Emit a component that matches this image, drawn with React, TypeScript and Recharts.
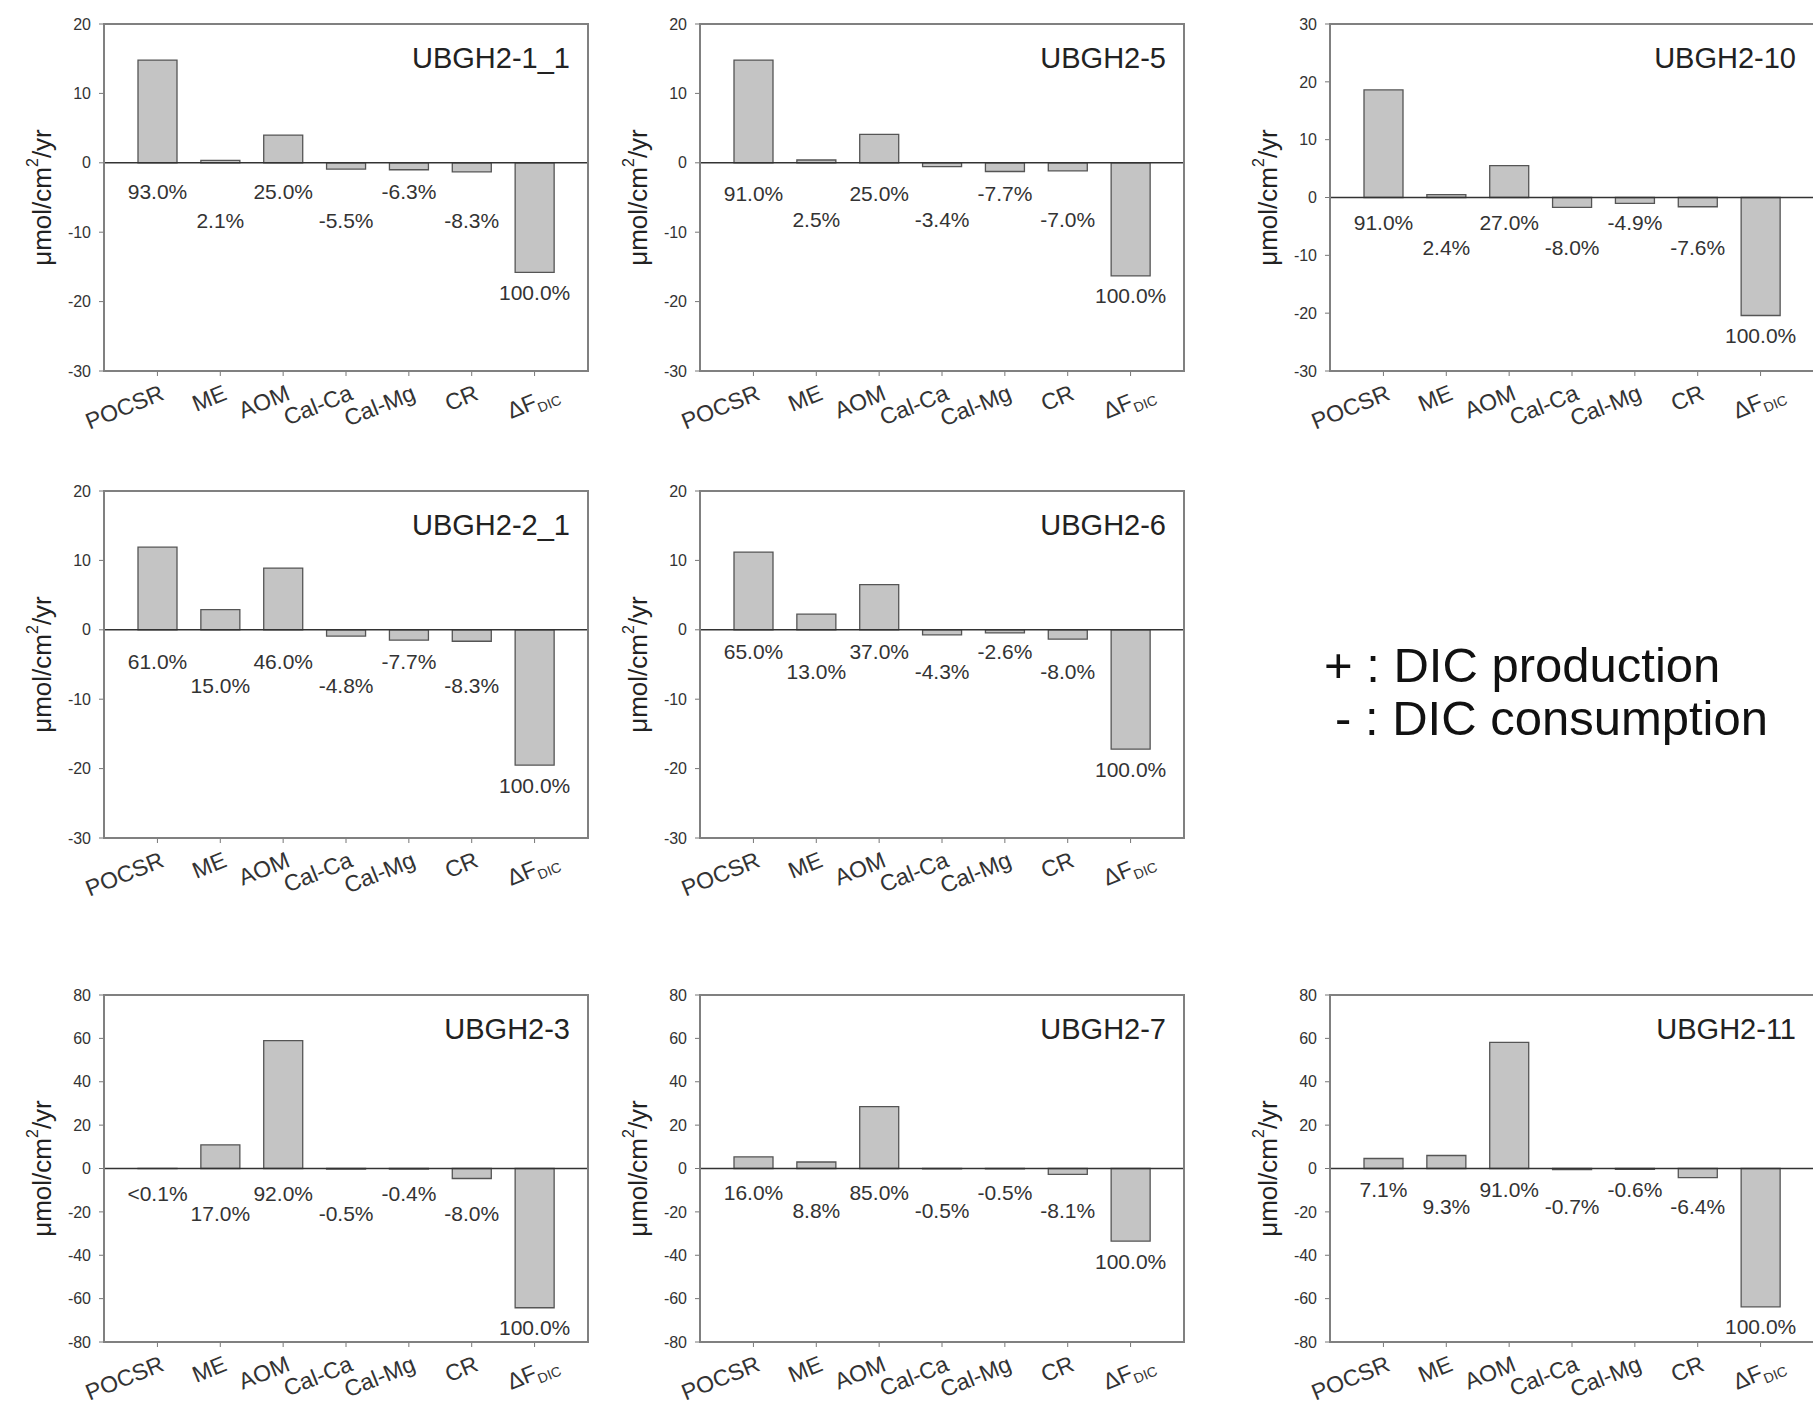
import React from 'react';
import { BarChart, Bar, XAxis, YAxis, ReferenceLine, LabelList, Label } from 'recharts';

// categories on the x axis (last one is drawn as ΔF with a DIC subscript)
const categories = ['POCSR', 'ME', 'AOM', 'Cal-Ca', 'Cal-Mg', 'CR', 'ΔF_DIC'];

// fluxes in µmol/cm2/yr
const ubgh2_1_1 = [14.8, 0.35, 4.0, -0.9, -1.0, -1.3, -15.8];
const ubgh2_5 = [14.8, 0.4, 4.1, -0.55, -1.25, -1.15, -16.3];
const ubgh2_10 = [18.6, 0.5, 5.5, -1.7, -1.0, -1.6, -20.4];
const ubgh2_2_1 = [11.9, 2.9, 8.9, -0.9, -1.5, -1.65, -19.5];
const ubgh2_6 = [11.2, 2.25, 6.5, -0.72, -0.45, -1.35, -17.2];
const ubgh2_3 = [0.05, 10.9, 59.0, -0.32, -0.26, -4.6, -64.2];
const ubgh2_7 = [5.4, 3.0, 28.5, -0.17, -0.17, -2.7, -33.5];
const ubgh2_11 = [4.6, 6.0, 58.2, -0.45, -0.38, -4.2, -63.8];

// percentage labels printed under each bar
const pct_1_1 = ['93.0%', '2.1%', '25.0%', '-5.5%', '-6.3%', '-8.3%', '100.0%'];
const pct_5 = ['91.0%', '2.5%', '25.0%', '-3.4%', '-7.7%', '-7.0%', '100.0%'];
const pct_10 = ['91.0%', '2.4%', '27.0%', '-8.0%', '-4.9%', '-7.6%', '100.0%'];
const pct_2_1 = ['61.0%', '15.0%', '46.0%', '-4.8%', '-7.7%', '-8.3%', '100.0%'];
const pct_6 = ['65.0%', '13.0%', '37.0%', '-4.3%', '-2.6%', '-8.0%', '100.0%'];
const pct_3 = ['<0.1%', '17.0%', '92.0%', '-0.5%', '-0.4%', '-8.0%', '100.0%'];
const pct_7 = ['16.0%', '8.8%', '85.0%', '-0.5%', '-0.5%', '-8.1%', '100.0%'];
const pct_11 = ['7.1%', '9.3%', '91.0%', '-0.7%', '-0.6%', '-6.4%', '100.0%'];

// y tick sets
const ticks20 = [-30, -20, -10, 0, 10, 20];
const ticks30 = [-30, -20, -10, 0, 10, 20, 30];
const ticks80 = [-80, -60, -40, -20, 0, 20, 40, 60, 80];

// layout (not data)
const FONT = '"Liberation Sans", Arial, Helvetica, sans-serif';
const colLeft = [104, 700, 1330];
const rowTop = [24, 491, 995];
const BOX_W = 484;
const BOX_H = 347;
const M = { top: 20, right: 20, bottom: 0, left: 40 };
const Y_W = 60;
const X_H = 90;
const FRAME = '#808080';

const panels = [
  { title: 'UBGH2-1_1', values: ubgh2_1_1, pct: pct_1_1, ticks: ticks20, col: 0, row: 0, dy: [29, 58] },
  { title: 'UBGH2-5', values: ubgh2_5, pct: pct_5, ticks: ticks20, col: 1, row: 0, dy: [31, 57] },
  { title: 'UBGH2-10', values: ubgh2_10, pct: pct_10, ticks: ticks30, col: 2, row: 0, dy: [25, 50] },
  { title: 'UBGH2-2_1', values: ubgh2_2_1, pct: pct_2_1, ticks: ticks20, col: 0, row: 1, dy: [32, 56] },
  { title: 'UBGH2-6', values: ubgh2_6, pct: pct_6, ticks: ticks20, col: 1, row: 1, dy: [22, 42] },
  { title: 'UBGH2-3', values: ubgh2_3, pct: pct_3, ticks: ticks80, col: 0, row: 2, dy: [25, 45] },
  { title: 'UBGH2-7', values: ubgh2_7, pct: pct_7, ticks: ticks80, col: 1, row: 2, dy: [24, 42] },
  { title: 'UBGH2-11', values: ubgh2_11, pct: pct_11, ticks: ticks80, col: 2, row: 2, dy: [21, 38] },
];

const XTick = (props: any) => {
  const { x, y, payload } = props;
  const isDF = payload.value === 'ΔF_DIC';
  const shift = isDF ? 26 : 8;
  return (
    <g transform={`translate(${x + shift},${y + 21}) rotate(-22)`}>
      {isDF ? (
        <text textAnchor="end" fontSize={23} fill="#333" fontFamily={FONT}>
          <tspan>ΔF</tspan>
          <tspan fontSize={14} dy={5}>DIC</tspan>
        </text>
      ) : (
        <text textAnchor="end" fontSize={23} fill="#333" fontFamily={FONT}>
          {payload.value}
        </text>
      )}
    </g>
  );
};

function Panel({ p }: { p: any }) {
  const rows = categories.map((c, i) => ({ name: c, value: p.values[i], pct: p.pct[i] }));
  const w = M.left + Y_W + BOX_W + M.right;
  const h = M.top + BOX_H + X_H;
  const lo = p.ticks[0];
  const hi = p.ticks[p.ticks.length - 1];
  const plotL = M.left + Y_W;
  const plotR = plotL + BOX_W;

  const pctLabel = (lp: any) => {
    const { x, y, width, height, value, index } = lp;
    const y1 = Number(y);
    const y2 = Number(y) + Number(height);
    const v = rows[index].value;
    const zero = v >= 0 ? Math.max(y1, y2) : Math.min(y1, y2);
    const end = v >= 0 ? Math.min(y1, y2) : Math.max(y1, y2);
    let cy;
    if (index === rows.length - 1) cy = end + 20;
    else cy = zero + (index % 2 === 0 ? p.dy[0] : p.dy[1]);
    return (
      <text
        key={`pl-${index}`}
        x={Number(x) + Number(width) / 2}
        y={cy + 7.5}
        textAnchor="middle"
        fontSize={21}
        fill="#333"
        fontFamily={FONT}
      >
        {value}
      </text>
    );
  };

  const frame = () => (
    <rect x={plotL} y={M.top} width={BOX_W} height={BOX_H} fill="none" stroke={FRAME} strokeWidth={2} />
  );

  const title = () => (
    <text x={plotR - 18} y={M.top + 44} textAnchor="end" fontSize={29} fill="#222" fontFamily={FONT}>
      {p.title}
    </text>
  );

  const yLabel = () => {
    const cx = plotL - 62;
    const cy = M.top + BOX_H / 2;
    return (
      <text
        x={cx}
        y={cy}
        transform={`rotate(-90, ${cx}, ${cy})`}
        textAnchor="middle"
        dominantBaseline="central"
        fontSize={26}
        fill="#222"
        fontFamily={FONT}
      >
        μmol/cm
        <tspan fontSize={16} dy={-10}>2</tspan>
        <tspan dy={10}>/yr</tspan>
      </text>
    );
  };

  return (
    <div style={{ position: 'absolute', left: colLeft[p.col] - plotL, top: rowTop[p.row] - M.top }}>
      <BarChart width={w} height={h} data={rows} margin={M} barSize={39}>
        <XAxis
          dataKey="name"
          interval={0}
          padding={{ left: 22, right: 22 }}
          height={X_H}
          tickSize={5}
          tickLine={{ stroke: '#777' }}
          axisLine={{ stroke: FRAME, strokeWidth: 2 }}
          tick={<XTick />}
        />
        <YAxis
          domain={[lo, hi]}
          ticks={p.ticks}
          allowDataOverflow
          width={Y_W}
          tickSize={5}
          tickMargin={8}
          tickLine={{ stroke: '#777' }}
          axisLine={{ stroke: FRAME, strokeWidth: 2 }}
          tick={{ fontSize: 16, fill: '#333', fontFamily: FONT }}
        >
          <Label content={frame} />
          <Label content={yLabel} />
          <Label content={title} />
        </YAxis>
        <ReferenceLine y={0} stroke="#333" strokeWidth={1.5} />
        <Bar dataKey="value" fill="#c4c4c4" stroke="#555" strokeWidth={1.3} isAnimationActive={false}>
          <LabelList dataKey="pct" content={pctLabel} />
        </Bar>
      </BarChart>
    </div>
  );
}

export default function App() {
  return (
    <div
      style={{
        position: 'absolute',
        left: 0,
        top: 0,
        width: 1813,
        height: 1409,
        overflow: 'hidden',
        background: '#fff',
        fontFamily: FONT,
      }}
    >
      {panels.map((p) => (
        <Panel key={p.title} p={p} />
      ))}
      <svg width={513} height={150} style={{ position: 'absolute', left: 1300, top: 620 }}>
        <text x={24} y={62} fontSize={49} fill="#111" fontFamily={FONT}>
          + : DIC production
        </text>
        <text x={35} y={115} fontSize={49} fill="#111" fontFamily={FONT}>
          - : DIC consumption
        </text>
      </svg>
    </div>
  );
}
